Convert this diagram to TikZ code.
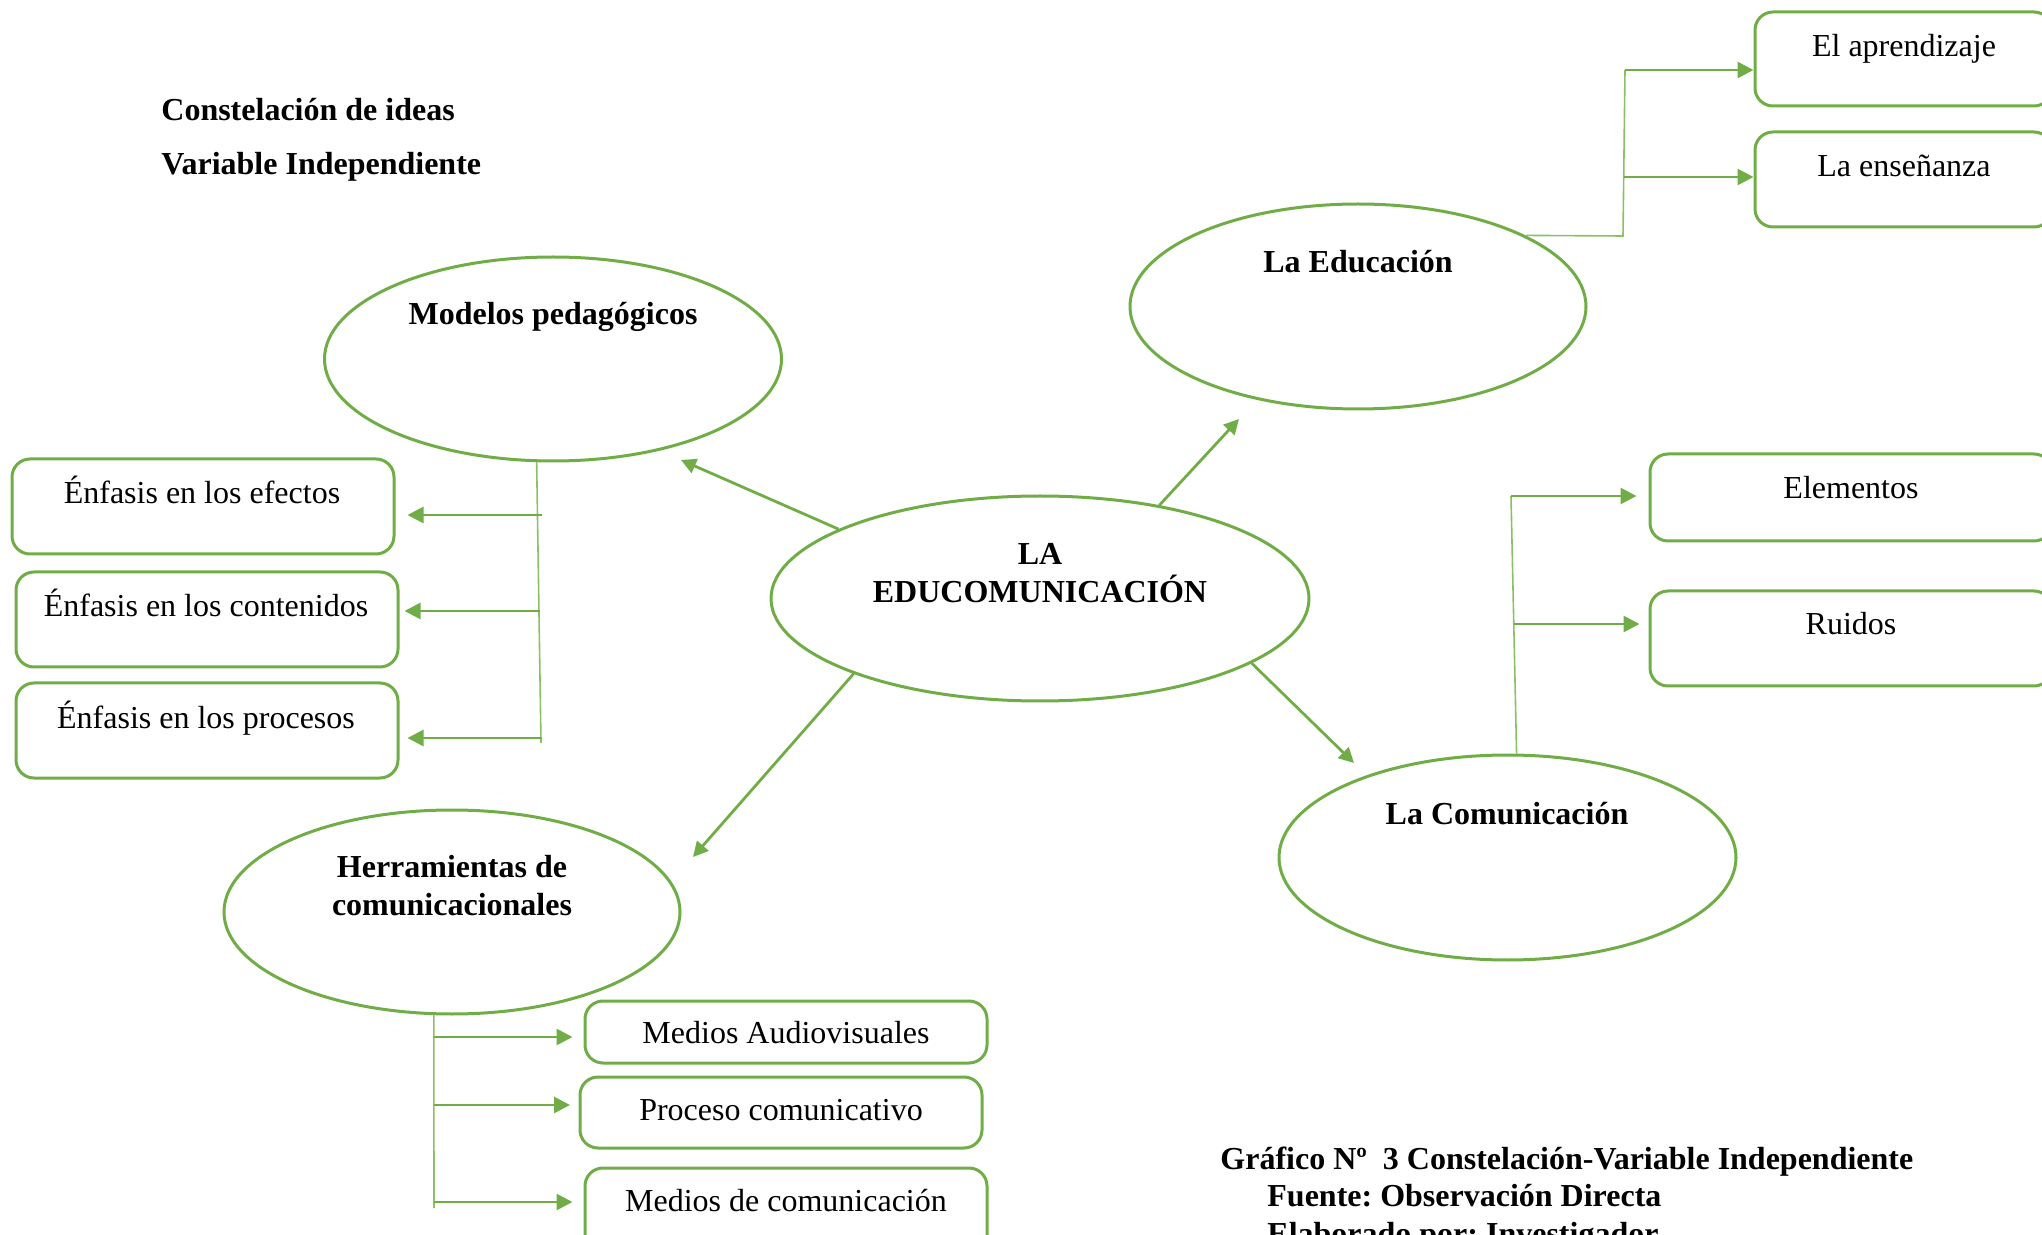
\documentclass[tikz,border=0pt]{standalone}
\usepackage{fontspec}
\setmainfont{Liberation Serif}
\usetikzlibrary{shapes.geometric,arrows.meta}
\definecolor{grn}{HTML}{70AD47}
\definecolor{grnl}{HTML}{8CC065}
\frenchspacing
\begin{document}
\begin{tikzpicture}[x=0.5pt,y=-0.5pt,
  oval/.style={ellipse,draw=grn,line width=1.5pt,inner sep=0pt},
  rbox/.style={rectangle,rounded corners=9pt,draw=grn,line width=1.5pt,inner sep=0pt},
  txt/.style={anchor=base,inner sep=0pt,font=\fontsize{16}{19}\selectfont},
  btxt/.style={anchor=base,inner sep=0pt,font=\fontsize{16}{19}\selectfont\bfseries},
  arr/.style={draw=grn,line width=1.4pt,-{Triangle[length=8pt,width=8pt]}},
  harr/.style={draw=grn,line width=1.4pt,-{Triangle[length=7.5pt,width=7.5pt]}},
  thinline/.style={draw=grnl,line width=0.8pt}]
\useasboundingbox (0,0) rectangle (2042,1235);
\clip (0,0) rectangle (2042,1235);

% titles
\node[btxt,anchor=base west] (t1) at (161,121) {Constelación de ideas};
\node[btxt,anchor=base west] (t2) at (161,175) {Variable Independiente};

% ellipses
\node[oval,minimum width=228.5pt,minimum height=102pt] (model) at (553,359) {};
\node[oval,minimum width=228pt,minimum height=102.5pt] (educ) at (1358,306.5) {};
\node[oval,minimum width=269pt,minimum height=102.5pt] (hub) at (1040,598.5) {};
\node[oval,minimum width=228.5pt,minimum height=102.5pt] (comu) at (1507.5,857.5) {};
\node[oval,minimum width=228pt,minimum height=102pt] (herr) at (452,912) {};

\node[btxt] (modelT) at (553,325) {Modelos pedagógicos};
\node[btxt] (educT) at (1358,273) {La Educación};
\node[btxt] (hubT1) at (1040,565) {LA};
\node[btxt] (hubT2) at (1040,603) {EDUCOMUNICACIÓN};
\node[btxt] (comuT) at (1507,824) {La Comunicación};
\node[btxt] (herrT1) at (452,877) {Herramientas de};
\node[btxt] (herrT2) at (452,915) {comunicacionales};

% boxes
\node[rbox,minimum width=148.5pt,minimum height=47pt] (apr) at (1903.5,59) {};
\node[rbox,minimum width=148.5pt,minimum height=47.5pt] (ens) at (1903.5,179.5) {};
\node[rbox,minimum width=201pt,minimum height=43.5pt] (elem) at (1851,497.5) {};
\node[rbox,minimum width=201pt,minimum height=47.5pt] (ruid) at (1851,638.5) {};
\node[rbox,minimum width=191pt,minimum height=47.5pt] (efe) at (203,506.5) {};
\node[rbox,minimum width=191pt,minimum height=47.5pt] (cont) at (207,619.5) {};
\node[rbox,minimum width=191pt,minimum height=47.5pt] (proc) at (207,730.5) {};
\node[rbox,minimum width=201pt,minimum height=31pt] (aud) at (786,1032) {};
\node[rbox,minimum width=201pt,minimum height=35.5pt] (pro) at (781,1112.5) {};
\node[rbox,minimum width=201pt,minimum height=46pt] (med) at (786,1214) {};

\node[txt] (aprT) at (1904,57) {El aprendizaje};
\node[txt] (ensT) at (1904,177) {La enseñanza};
\node[txt] (elemT) at (1851,499) {Elementos};
\node[txt] (ruidT) at (1851,635) {Ruidos};
\node[txt] (efeT) at (202,504) {Énfasis en los efectos};
\node[txt] (contT) at (206,617) {Énfasis en los contenidos};
\node[txt] (procT) at (206,728) {Énfasis en los procesos};
\node[txt] (audT) at (786,1043) {Medios Audiovisuales};
\node[txt] (proT) at (781,1120) {Proceso comunicativo};
\node[txt] (medT) at (786,1211) {Medios de comunicación};

% hub arrows
\coordinate (tM) at (681,460);
\coordinate (tE) at (1239,419);
\coordinate (tC) at (1354,763);
\coordinate (tH) at (693,857);
\draw[harr] (hub.161) -- (tM);
\draw[harr] (hub.38.5) -- (tE);
\draw[harr] (hub.-17) -- (tC);
\draw[harr] (hub.202) -- (tH);

% La Educacion branches
\coordinate (eK) at (1623,236);
\coordinate (eA) at (1625,70);
\coordinate (eB) at (1624,177);
\draw[thinline] (educ.23) -- (eK) -- (eA);
\draw[arr] (eA) -- (eA -| apr.west);
\draw[arr] (eB) -- (eB -| ens.west);

% La Comunicacion branches
\coordinate (cA) at (1511,496);
\coordinate (cB) at (1514,624);
\draw[thinline] (comu.85) -- (cA);
\draw[arr,shorten >=6pt] (cA) -- (cA -| elem.west);
\draw[arr,shorten >=4.5pt] (cB) -- (cB -| ruid.west);

% Modelos branches
\coordinate (mEnd) at (541,743);
\coordinate (mA) at (542,515);
\coordinate (mB) at (540,611);
\coordinate (mC) at (542,738);
\draw[thinline] (model.261) -- (mEnd);
\draw[arr,shorten >=6pt] (mA) -- (mA -| efe.east);
\draw[arr,shorten >=2.5pt] (mB) -- (mB -| cont.east);
\draw[arr,shorten >=4pt] (mC) -- (mC -| proc.east);

% Herramientas branches
\coordinate (hEnd) at (434,1208);
\coordinate (hA) at (434,1037);
\coordinate (hB) at (434,1105);
\coordinate (hC) at (434,1202);
\draw[thinline] (herr.260) -- (hEnd);
\draw[arr,shorten >=5.5pt] (hA) -- (hA -| aud.west);
\draw[arr,shorten >=4.25pt] (hB) -- (hB -| pro.west);
\draw[arr,shorten >=5.5pt] (hC) -- (hC -| med.west);

% caption
\node[btxt,anchor=base west] (cap1) at (1220,1169) {Gráfico Nº~~3 Constelación-Variable Independiente};
\node[btxt,anchor=base west] (cap2) at (1267,1206) {Fuente: Observación Directa};
\node[btxt,anchor=base west] (cap3) at (1267,1244) {Elaborado por: Investigador};
\end{tikzpicture}
\end{document}
